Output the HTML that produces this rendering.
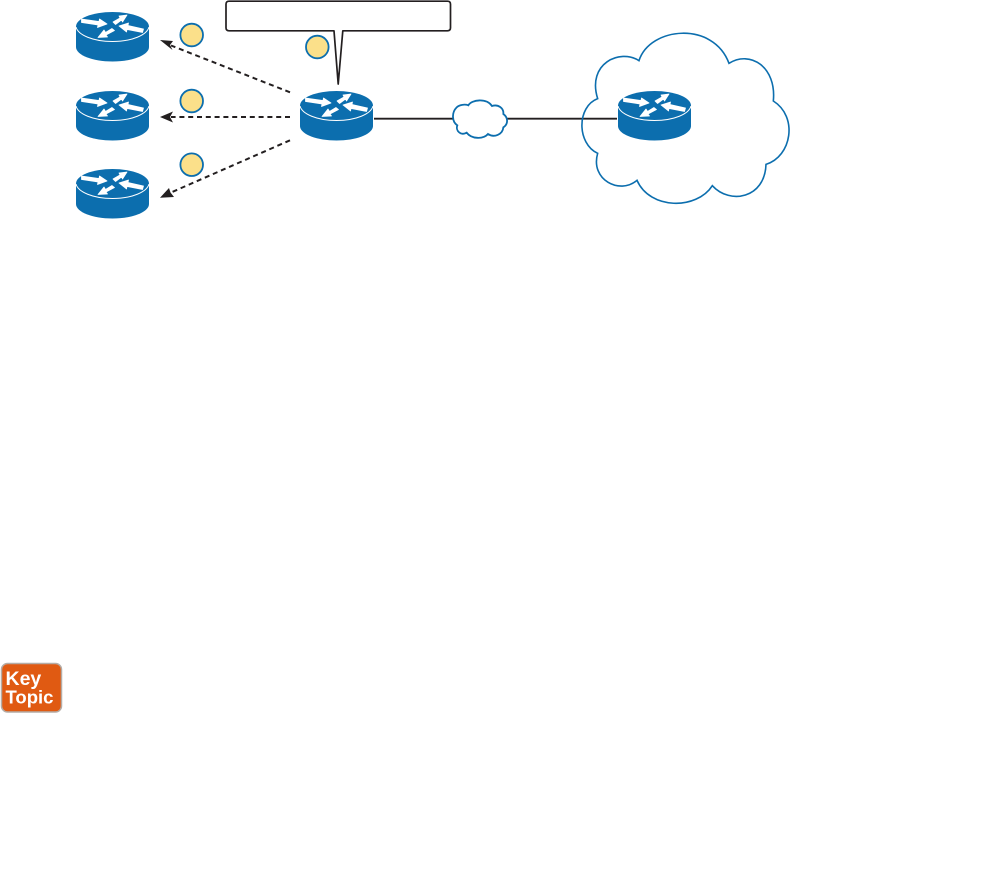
<!DOCTYPE html>
<html>
<head>
<meta charset="utf-8">
<style>
html,body{margin:0;padding:0;background:#fff;width:990px;height:893px;overflow:hidden}
svg{display:block}
</style>
</head>
<body>
<svg width="990" height="893" viewBox="0 0 990 893" xmlns="http://www.w3.org/2000/svg">
<defs>
<g id="r">
<path d="M0 14.500V35C0 43 16.300 49.500 36.500 49.500S73 43 73 35V14.500Z" fill="#0c6eae"/>
<ellipse cx="36.500" cy="14.500" rx="36.500" ry="14.500" fill="#0c6eae"/>
<path d="M0 15C2 23 17 29.500 36.500 29.500S71 23 73 15" fill="none" stroke="#fff" stroke-width="1"/>
<g fill="#fff" stroke="#fff" stroke-width="0.800" stroke-linejoin="round">
<path d="M5.500 7L23 9.500L23.500 7L31 12L21.500 15.500L22 13L5.500 10.500Z"/>
<path d="M37 10L44 6L43 4L51 3L46.500 10L45.500 8L39.500 12.500Z"/>
<path d="M67.500 17L52 13.500L52.500 11L43 14L50.500 20L51 17.500L66.500 20.500Z"/>
<path d="M36 16.500L29.500 20.500L28 18L22 25.500L31.500 25L30 23L38.500 18.500Z"/>
</g>
</g>
</defs>

<use href="#r" x="76" y="12"/>
<use href="#r" x="76" y="91"/>
<use href="#r" x="76" y="169"/>
<use href="#r" x="300" y="91"/>

<!-- Callout -->
<path d="M229 1.200H447.500Q450.500 1.200 450.500 4.200V27.800Q450.500 30.800 447.500 30.800H342.800L338.200 84L334 30.800H229Q226 30.800 226 27.800V4.200Q226 1.200 229 1.200Z" fill="#fff" stroke="#231f20" stroke-width="1.700" stroke-linejoin="round"/>

<!-- Dashed connectors -->
<g stroke="#231f20" stroke-width="2" stroke-dasharray="5 3.800" fill="none">
<path d="M290 92.300L171 45.500"/>
<path d="M290 117H171"/>
<path d="M290 140.300L171 192.500"/>
</g>
<g fill="#231f20">
<path d="M160 40L173 41L170 45L172.500 50Z"/>
<path d="M160 117L173 111.500L170 117L173 122.500Z"/>
<path d="M160 197.700L169 188L170.500 192.500L174 197Z"/>
</g>

<!-- Number circles -->
<g fill="#fbe08a" stroke="#0c6eae" stroke-width="1.800">
<circle cx="191.700" cy="35" r="11.300"/>
<circle cx="191.700" cy="101" r="11.300"/>
<circle cx="191.700" cy="164.700" r="11.300"/>
<circle cx="317.300" cy="47" r="11.300"/>
</g>

<!-- Link -->
<path d="M374 118.700H453M507 118.700H617" stroke="#231f20" stroke-width="1.800" fill="none"/>

<!-- Clouds -->
<g transform="translate(430 20) scale(.33333)" fill="none" stroke="#0c6eae">
<path stroke-width="5.400" d="M80 262C88 254 105 252 115 256C125 238 170 234 186 258C204 252 222 264 220 282C234 292 236 312 220 322C218 344 192 354 174 342C160 358 125 358 110 338C92 348 76 332 82 316C66 306 64 278 80 262Z" fill="#fff"/>
<path stroke-width="4.800" d="M627 122C660 20 850 2 897 130C960 90 1040 140 1030 243C1105 290 1085 410 1008 433C1005 535 900 555 847 497C800 570 660 570 621 481C570 525 480 480 503 400C440 370 440 260 503 236C470 130 570 85 627 122Z"/>
</g>

<use href="#r" x="618" y="91"/>

<!-- Key Topic -->
<rect x="1.500" y="663.500" width="60" height="48.500" rx="6" ry="6" fill="#e05a12" stroke="#b4aca6" stroke-width="1.500"/>
<text x="5.500" y="685" font-family="'Liberation Sans',sans-serif" font-weight="700" font-size="19.500" fill="#fff">Key</text>
<text x="5.500" y="703.500" font-family="'Liberation Sans',sans-serif" font-weight="700" font-size="18.500" fill="#fff">Topic</text>
</svg>
</body>
</html>
